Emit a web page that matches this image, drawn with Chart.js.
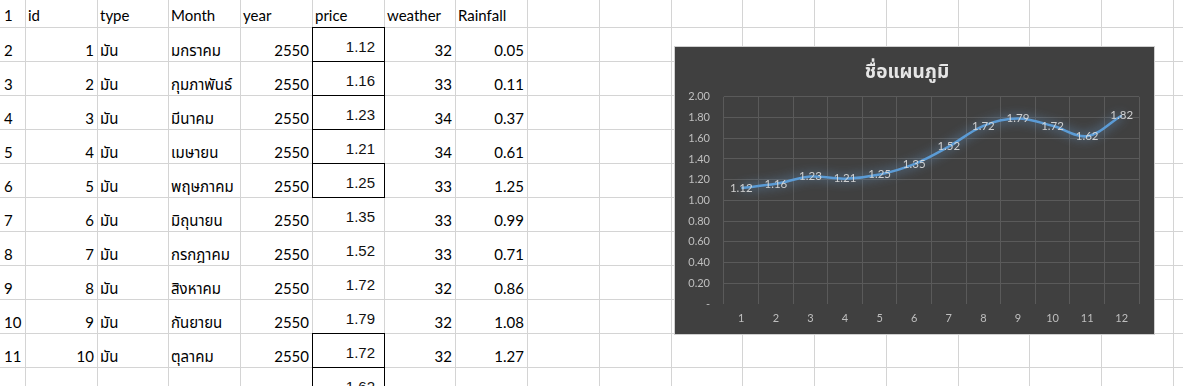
<!DOCTYPE html>
<html>
<head>
<meta charset="utf-8">
<script src="https://cdn.jsdelivr.net/npm/chart.js@4.4.1/dist/chart.umd.min.js"></script>
<style>
html, body { margin:0; padding:0; background:#fff; width:1183px; height:386px; overflow:hidden; }
#sheet { position:absolute; left:0; top:0; width:1183px; height:386px; font-family:Lato, "Noto Sans Thai", Tahoma, sans-serif; font-size:15px; color:#000; }
.vl { position:absolute; top:0; width:1px; height:386px; background:#d4d4d4; }
.hl { position:absolute; left:0; height:1px; width:1183px; background:#d4d4d4; }
.c { position:absolute; height:20px; line-height:20px; white-space:nowrap; }
.p { font-family:"Liberation Sans", Arial, sans-serif; font-size:15px; color:#111; }
.bx { position:absolute; box-sizing:border-box; border:1px solid #000; }
#box { position:absolute; left:675px; top:47px; width:479px; height:287px; outline:1px solid #cfcfcf; background:#404040; }
</style>
</head>
<body>
<div id="sheet"></div>
<div id="box"><canvas id="chart" width="479" height="287"></canvas></div>
<script>
// sheet data
var headers = ['id', 'type', 'Month', 'year', 'price', 'weather', 'Rainfall'];
var ids = [1, 2, 3, 4, 5, 6, 7, 8, 9, 10];
var types = ['มัน', 'มัน', 'มัน', 'มัน', 'มัน', 'มัน', 'มัน', 'มัน', 'มัน', 'มัน'];
var months = ['มกราคม', 'กุมภาพันธ์', 'มีนาคม', 'เมษายน', 'พฤษภาคม', 'มิถุนายน', 'กรกฎาคม', 'สิงหาคม', 'กันยายน', 'ตุลาคม'];
var years = [2550, 2550, 2550, 2550, 2550, 2550, 2550, 2550, 2550, 2550];
var prices = [1.12, 1.16, 1.23, 1.21, 1.25, 1.35, 1.52, 1.72, 1.79, 1.72, 1.62, 1.82];
var weather = [32, 33, 34, 34, 33, 33, 33, 32, 32, 32];
var rainfall = [0.05, 0.11, 0.37, 0.61, 1.25, 0.99, 0.71, 0.86, 1.08, 1.27];

// chart data
var xLabels = ['1', '2', '3', '4', '5', '6', '7', '8', '9', '10', '11', '12'];
var chartTitle = 'ชื่อแผนภูมิ';

// grid of the sheet
var colX = [0, 25, 97, 168, 240, 312, 384, 455, 527, 599, 671, 742, 814, 886, 958, 1029, 1101, 1173];
var rowY = [0, 27, 61, 95, 129, 163, 197, 231, 265, 299, 333, 367, 401];
var boxedRows = [2, 3, 4, 6, 11, 12];

var sheet = document.getElementById('sheet');
var html = '';
for (var i = 1; i < colX.length; i++) html += '<div class="vl" style="left:' + colX[i] + 'px"></div>';
for (var j = 1; j < rowY.length; j++) html += '<div class="hl" style="top:' + rowY[j] + 'px"></div>';

function cell(text, col, row, align, cls) {
    var top = (cls === 'p') ? rowY[row - 1] + 10 : rowY[row] - 21;
    if (row === 1) top = 5;
    var left = colX[col];
    var w = colX[col + 1] - colX[col];
    var st = 'top:' + top + 'px;';
    if (align === 'right') {
        var pad = (cls === 'p') ? 9 : 3;
        st += 'left:' + left + 'px;width:' + (w - pad) + 'px;text-align:right;';
    } else {
        st += 'left:' + (left + (col === 0 ? 4 : 3)) + 'px;';
    }
    return '<div class="c ' + (cls || '') + '" style="' + st + '">' + text + '</div>';
}

// price borders
for (var b = 0; b < boxedRows.length; b++) {
    var r = boxedRows[b];
    html += '<div class="bx" style="left:312px;width:73px;top:' + rowY[r - 1] + 'px;height:' + (rowY[r] - rowY[r - 1] + 1) + 'px"></div>';
}
html += '<div style="position:absolute;left:312px;width:1px;background:#000;top:' + rowY[4] + 'px;height:' + (rowY[5] - rowY[4]) + 'px"></div>';

for (var r = 1; r <= 11; r++) html += cell(String(r), 0, r, 'left');
for (var h = 0; h < headers.length; h++) html += cell(headers[h], h + 1, 1, 'left');
for (var k = 0; k < ids.length; k++) {
    var row = k + 2;
    html += cell(ids[k], 1, row, 'right');
    html += cell(types[k], 2, row, 'left');
    html += cell(months[k], 3, row, 'left');
    html += cell(years[k], 4, row, 'right');
    html += cell(prices[k].toFixed(2), 5, row, 'right', 'p');
    html += cell(weather[k], 6, row, 'right');
    html += cell(rainfall[k].toFixed(2), 7, row, 'right');
}
html += cell(prices[10].toFixed(2), 5, 12, 'right', 'p');
sheet.innerHTML = html;

// glow under the line
var glow = {
    id: 'glow',
    beforeDatasetDraw: function(chart) {
        var c = chart.ctx;
        c.save();
        c.shadowColor = 'rgba(110,170,230,0.95)';
        c.shadowBlur = 11;
    },
    afterDatasetDraw: function(chart) {
        chart.ctx.restore();
    }
};

// value labels centred on the points
var valueLabels = {
    id: 'valueLabels',
    afterDatasetsDraw: function(chart) {
        var c = chart.ctx;
        var meta = chart.getDatasetMeta(0);
        c.save();
        c.font = '11.5px Lato, sans-serif';
        c.fillStyle = 'rgba(222,222,222,0.9)';
        c.textAlign = 'center';
        c.textBaseline = 'middle';
        meta.data.forEach(function(pt, i) {
            c.fillText(prices[i].toFixed(2), pt.x, pt.y);
        });
        c.restore();
    }
};

var ctx = document.getElementById('chart').getContext('2d');
var lineChart = new Chart(ctx, {
    type: 'line',
    data: {
        labels: xLabels,
        datasets: [{
            data: prices,
            borderColor: '#5b9bd5',
            borderWidth: 2.5,
            tension: 0.35,
            pointRadius: 0,
            fill: false
        }]
    },
    options: {
        responsive: false,
        animation: false,
        devicePixelRatio: 1,
        layout: { padding: { left: 0, right: 15, top: 0, bottom: 0 } },
        plugins: {
            legend: { display: false },
            tooltip: { enabled: false },
            title: {
                display: true,
                text: chartTitle,
                color: '#e6e6e6',
                font: { family: 'Lato, "Noto Sans Thai", Tahoma, sans-serif', size: 19, weight: 'bold' },
                padding: { top: 13, bottom: 14 }
            }
        },
        scales: {
            x: {
                offset: true,
                grid: { offset: true, color: '#5a5a5a', drawTicks: false },
                border: { display: false },
                ticks: { color: '#bfbfbf', font: { family: 'Lato', size: 11 }, padding: 8 },
                afterFit: function(s) { s.height = 30; }
            },
            y: {
                min: 0,
                max: 2,
                ticks: {
                    stepSize: 0.2,
                    padding: 14,
                    color: '#bfbfbf',
                    font: { family: 'Lato', size: 11 },
                    callback: function(v) { return v === 0 ? '-' : v.toFixed(2); }
                },
                grid: {
                    color: function(c) { return c.tick && c.tick.value === 0 ? 'rgba(0,0,0,0)' : '#5a5a5a'; },
                    drawTicks: false
                },
                border: { display: false },
                afterFit: function(s) { s.width = 49; }
            }
        }
    },
    plugins: [glow, valueLabels]
});
</script>
</body>
</html>
